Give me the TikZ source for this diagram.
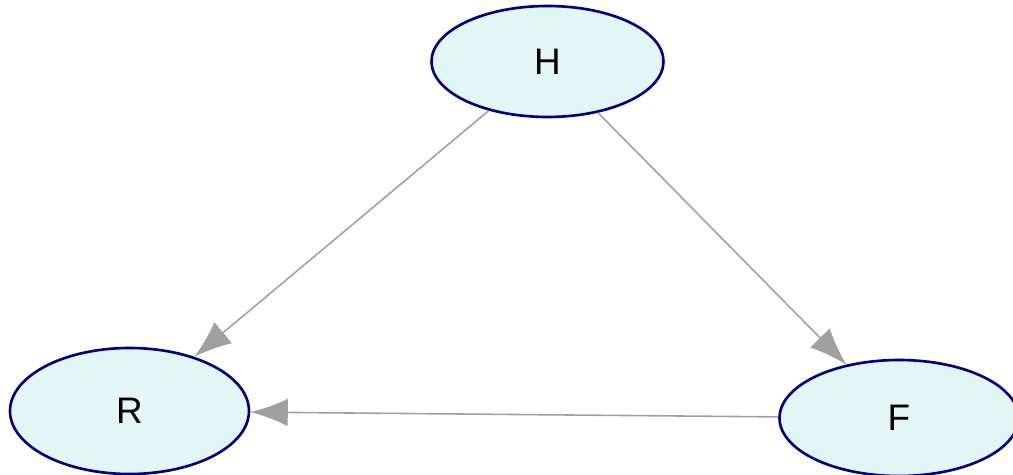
\documentclass[tikz,border=0pt]{standalone}
\usepackage{fontspec}
\setmainfont{Liberation Sans}
\usetikzlibrary{positioning,calc,arrows.meta,shapes.geometric}
\definecolor{nodefill}{HTML}{E3F5F5}
\definecolor{nodeline}{HTML}{000080}
\definecolor{edgegray}{HTML}{A0A0A0}
\tikzset{vnode/.style={draw=nodeline,ellipse,fill=nodefill,line width=1.5pt,inner sep=0pt,font=\fontsize{21}{24}\selectfont}  }
\tikzset{vedge/.style={draw=edgegray,line width=0.9pt,-{Latex[length=0.75cm,width=0.55cm]}}  }

\begin{document}
\begin{tikzpicture}[scale=1]
  % canvas: 1013 x 475 px at 0.02cm per px
  \useasboundingbox (0,0) rectangle (20.26,9.5);
  \clip (0,0) rectangle (20.26,9.5);

    \node[vnode,minimum width=4.64cm,minimum height=2.22cm] (H) at (10.95,8.27) {H};
    \node[vnode,minimum width=4.78cm,minimum height=2.52cm] (R) at (2.59,1.28) {R};
    \node[vnode,minimum width=4.78cm,minimum height=2.32cm] (F) at (17.98,1.14) {F};

    \draw[vedge] (H)--(R);
    \draw[vedge] (H)--(F);
    \draw[vedge] (F)--(R);
\end{tikzpicture}
\end{document}
